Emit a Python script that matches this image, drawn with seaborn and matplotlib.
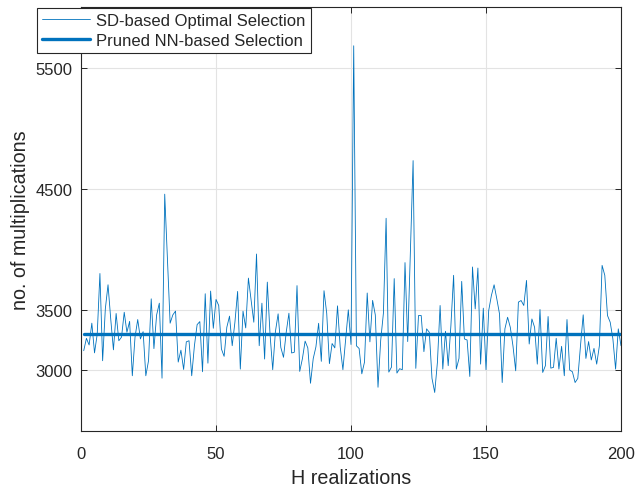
import numpy as np
import pandas as pd
import matplotlib
matplotlib.use("Agg")
import matplotlib.pyplot as plt
import seaborn as sns

# Số phép nhân cho từng realization của kênh H
realizations = list(range(1, 201))
sd_mults = [
    3163, 3265, 3210, 3390, 3145, 3300, 3800, 3080, 3508, 3707,
    3425, 3170, 3470, 3245, 3275, 3480, 3315, 3405, 2956, 3275,
    3420, 3260, 3320, 2956, 3080, 3591, 3180, 3458, 3555, 2936,
    4455, 3920, 3390, 3458, 3490, 3069, 3167, 3008, 3236, 3245,
    2956, 3204, 3378, 3403, 2989, 3633, 3060, 3655, 3348, 3586,
    3536, 3177, 3116, 3356, 3448, 3204, 3398, 3652, 3011, 3489,
    3351, 3762, 3577, 3398, 3961, 3204, 3555, 3094, 3729, 3301,
    3006, 3320, 3467, 3190, 3108, 3315, 3472, 3144, 3150, 3700,
    2992, 3097, 3242, 3186, 2894, 3097, 3194, 3389, 3075, 3658,
    3472, 3056, 3222, 3186, 3533, 3194, 3006, 3250, 3500, 3214,
    5680, 3203, 3181, 2972, 3069, 3639, 3236, 3578, 3458, 2861,
    3250, 3472, 4256, 2986, 3028, 3758, 2978, 3014, 3006, 3890,
    3238, 3985, 4732, 3017, 3453, 3453, 3155, 3343, 3315, 2934,
    2818, 3066, 3536, 3011, 3323, 3039, 3370, 3785, 3011, 3099,
    3735, 3260, 3251, 2950, 3854, 3508, 3845, 3052, 3514, 3006,
    3494, 3619, 3707, 3591, 3467, 2900, 3343, 3439, 3356, 3200,
    2997, 3564, 3577, 3536, 3743, 3218, 3425, 3356, 3052, 3503,
    2983, 3039, 3445, 3019, 3025, 3265, 3011, 3199, 2956, 3420,
    3003, 2989, 2900, 2934, 3204, 3459, 3099, 3238, 3086, 3182,
    3052, 3204, 3867, 3785, 3453, 3398, 3260, 3011, 3343, 3204,
]
nn_mults = [3300] * len(realizations)

xticks = [0, 50, 100, 150, 200]
yticks = [3000, 3500, 4500, 5500]

sns.set_style("ticks")
plt.rcParams["font.family"] = ["Liberation Sans", "DejaVu Sans"]

blue = "#0072BD"
axis_col = "#262626"

fig = plt.figure(figsize=(6.36, 4.89), dpi=100)
ax = fig.add_axes([0.1274, 0.1166, 0.849, 0.867])

sns.lineplot(x=realizations, y=sd_mults, ax=ax, color=blue, linewidth=0.6,
             label="SD-based Optimal Selection")
sns.lineplot(x=realizations, y=nn_mults, ax=ax, color=blue, linewidth=2.4,
             label="Pruned NN-based Selection")

ax.set_xlim(0, 200)
ax.set_ylim(2500, 6000)
ax.set_xticks(xticks)
ax.set_yticks(yticks)
ax.grid(True, color="#e3e3e3", linewidth=0.8)
ax.set_axisbelow(True)
ax.tick_params(direction="in", length=4, width=0.7, colors=axis_col,
               labelsize=12, top=True, right=True, pad=6)
ax.tick_params(axis="x", pad=11)
for s in ax.spines.values():
    s.set_color(axis_col)
    s.set_linewidth(0.8)
    s.set_visible(True)

ax.set_xlabel("H realizations", fontsize=14.2, color=axis_col, labelpad=5)
ax.set_ylabel("no. of multiplications", fontsize=14.2, color=axis_col,
              labelpad=4)

leg = ax.legend(loc="upper left", bbox_to_anchor=(37 / 636, 1 - 9 / 489),
                bbox_transform=fig.transFigure, fontsize=12, frameon=True,
                fancybox=False, framealpha=1, edgecolor=axis_col,
                borderpad=0.3, labelspacing=0.3, handlelength=2.9,
                handletextpad=0.35, borderaxespad=0)
leg.get_frame().set_linewidth(0.8)

fig.savefig("out.png", dpi=100)
